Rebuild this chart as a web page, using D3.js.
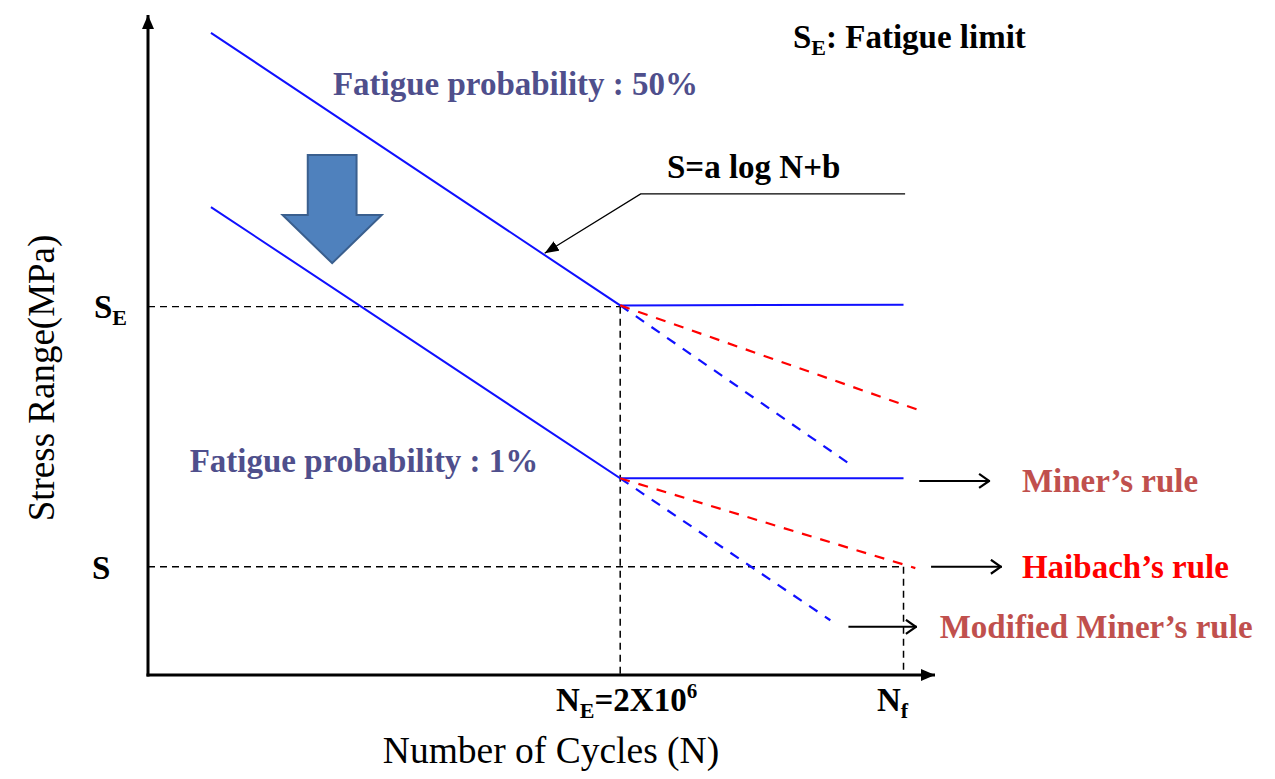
<!DOCTYPE html>
<html><head><meta charset="utf-8">
<script src="https://cdn.jsdelivr.net/npm/d3@7"></script>
<style>body{margin:0;background:#fff}svg{display:block}</style>
</head><body>
<svg id="c" width="1275" height="779"></svg>
<script>
// ---- data (abstract units: x = log-cycle position 0..100, y = stress 0..100) ----
const NE = 60, NF = 96;           // N_E and N_f positions
const SE = 55.8, S = 16.4;        // fatigue limit and stress level
const curve50 = [[8, 97.3], [NE, 56], [96, 56.1]];
const curve1  = [[8, 70.9], [NE, 29.8], [96, 29.8]];
const modMiner50 = [[NE, 56], [89, 32.1]];
const haibach50  = [[NE, 56], [97.8, 40.2]];
const modMiner1  = [[NE, 29.8], [86.7, 8.3]];
const haibach1   = [[NE, 29.8], [97.5, 16.2]];
const callout = [[96.2, 72.9], [62.6, 72.9], [50.4, 63.9]];
const ruleLabels = [
  {text: "Miner\u2019s rule", y: 29.4, x0: 98, x1: 107, tx: 111.05, color: "#c0504d"},
  {text: "Haibach\u2019s rule", y: 16.4, x0: 99.5, x1: 108.5, tx: 111.05, color: "#ff0000"},
  {text: "Modified Miner\u2019s rule", y: 7.3, x0: 89, x1: 97.7, tx: 100.6, color: "#c0504d"}
];

const svg = d3.select("#c");
const x = d3.scaleLinear().domain([0, 100]).range([148, 935]);
const y = d3.scaleLinear().domain([0, 100]).range([675, 15]);
const line = d3.line().x(d => x(d[0])).y(d => y(d[1]));

const defs = svg.append("defs");
function marker(id, w, h, open) {
  const m = defs.append("marker").attr("id", id).attr("viewBox", `0 0 ${w} ${h}`)
    .attr("refX", w).attr("refY", h / 2).attr("markerWidth", w).attr("markerHeight", h)
    .attr("markerUnits", "userSpaceOnUse").attr("orient", "auto");
  if (open) m.append("path").attr("d", `M1,1 L${w-1},${h/2} L1,${h-1}`).attr("fill", "none").attr("stroke", "#000").attr("stroke-width", 2.2);
  else m.append("path").attr("d", `M0,0 L${w},${h/2} L0,${h} Z`).attr("fill", "#000");
}
marker("axHead", 14, 12, false);
marker("openHead", 12, 16, true);
marker("callHead", 14, 11, false);

// guide dashed lines
const dash = "7,5";
svg.append("line").attr("x1", x(0)).attr("x2", x(NE)).attr("y1", y(SE)).attr("y2", y(SE))
  .attr("stroke", "#000").attr("stroke-width", 1.3).attr("stroke-dasharray", dash);
svg.append("line").attr("x1", x(0)).attr("x2", x(NF)).attr("y1", y(S)).attr("y2", y(S))
  .attr("stroke", "#000").attr("stroke-width", 1.5).attr("stroke-dasharray", dash);
svg.append("line").attr("x1", x(NE)).attr("x2", x(NE)).attr("y1", y(SE)).attr("y2", y(0))
  .attr("stroke", "#000").attr("stroke-width", 1.5).attr("stroke-dasharray", dash);
svg.append("line").attr("x1", x(NF)).attr("x2", x(NF)).attr("y1", y(S)).attr("y2", y(0))
  .attr("stroke", "#000").attr("stroke-width", 1.5).attr("stroke-dasharray", dash);

// axes
svg.append("line").attr("x1", x(0)).attr("x2", x(0)).attr("y1", y(0) + 1.5).attr("y2", y(100))
  .attr("stroke", "#000").attr("stroke-width", 3).attr("marker-end", "url(#axHead)");
svg.append("line").attr("x1", x(0) - 1.5).attr("x2", x(100)).attr("y1", y(0)).attr("y2", y(0))
  .attr("stroke", "#000").attr("stroke-width", 3).attr("marker-end", "url(#axHead)");

// curves
const blue = "#1010ff";
[curve50, curve1].forEach(c => svg.append("path").attr("d", line(c)).attr("fill", "none")
  .attr("stroke", blue).attr("stroke-width", 2));
[modMiner50, modMiner1].forEach(c => svg.append("path").attr("d", line(c)).attr("fill", "none")
  .attr("stroke", blue).attr("stroke-width", 2.2).attr("stroke-dasharray", "10,9"));
[haibach50, haibach1].forEach(c => svg.append("path").attr("d", line(c)).attr("fill", "none")
  .attr("stroke", "#ff0000").attr("stroke-width", 2.2).attr("stroke-dasharray", "10,9"));

// callout
svg.append("path").attr("d", line(callout)).attr("fill", "none").attr("stroke", "#000")
  .attr("stroke-width", 1.3).attr("marker-end", "url(#callHead)");

// block arrow
const bx = 23.4, btop = 78.8, bmid = 69.7, bbot = 62.4;
const ba = [[bx - 3.1, btop], [bx + 3.1, btop], [bx + 3.1, bmid], [bx + 6.3, bmid], [bx, bbot],
  [bx - 6.3, bmid], [bx - 3.1, bmid]];
svg.append("path").attr("d", line(ba) + "Z").attr("fill", "#4f81bd").attr("stroke", "#3a5f8e")
  .attr("stroke-width", 2).attr("stroke-linejoin", "miter");

// rule arrows + labels
const ff = "'Liberation Serif','Times New Roman',serif";
ruleLabels.forEach(r => {
  svg.append("line").attr("x1", x(r.x0)).attr("x2", x(r.x1)).attr("y1", y(r.y)).attr("y2", y(r.y))
    .attr("stroke", "#000").attr("stroke-width", 2).attr("marker-end", "url(#openHead)");
  svg.append("text").attr("x", x(r.tx)).attr("y", y(r.y)).attr("dy", "0.33em")
    .attr("font-family", ff).attr("font-weight", "bold").attr("font-size", 33)
    .attr("fill", r.color).text(r.text);
});

// texts
const T = (tx, ty, txt, size, opts = {}) => svg.append("text").attr("x", tx).attr("y", ty)
  .attr("font-family", ff).attr("font-weight", opts.normal ? "normal" : "bold")
  .attr("font-size", size).attr("fill", opts.color || "#000")
  .attr("text-anchor", opts.anchor || "start").text(txt);

const probColor = "#4f4f8c";
T(x(23.5), 95, "Fatigue probability : 50%", 33, {color: probColor});
T(x(5.3), 472, "Fatigue probability : 1%", 33, {color: probColor});
T(667, 178, "S=a log N+b", 33);

// S_E: Fatigue limit
const se = T(793, 48, "S", 33);
se.append("tspan").attr("dy", 7).attr("font-size", 22).text("E");
se.append("tspan").attr("dy", -7).text(": Fatigue limit");

// y tick labels
const sel = T(94, 318, "S", 33);
sel.append("tspan").attr("dy", 7).attr("font-size", 22).text("E");
T(92, 579, "S", 33);

// x tick labels
const ne = T(556, 711, "N", 33);
ne.append("tspan").attr("dy", 7).attr("font-size", 22).text("E");
ne.append("tspan").attr("dy", -7).text("=2X10");
ne.append("tspan").attr("dy", -13).attr("font-size", 21).text("6");
const nf = T(877, 711, "N", 33);
nf.append("tspan").attr("dy", 7).attr("font-size", 22).text("f");

// axis titles
T(551, 763, "Number of Cycles (N)", 37.5, {normal: true, anchor: "middle"});
svg.append("text").attr("transform", "translate(54,378) rotate(-90)")
  .attr("text-anchor", "middle").attr("font-family", ff).attr("font-size", 37).text("Stress Range(MPa)");
</script>
</body></html>
